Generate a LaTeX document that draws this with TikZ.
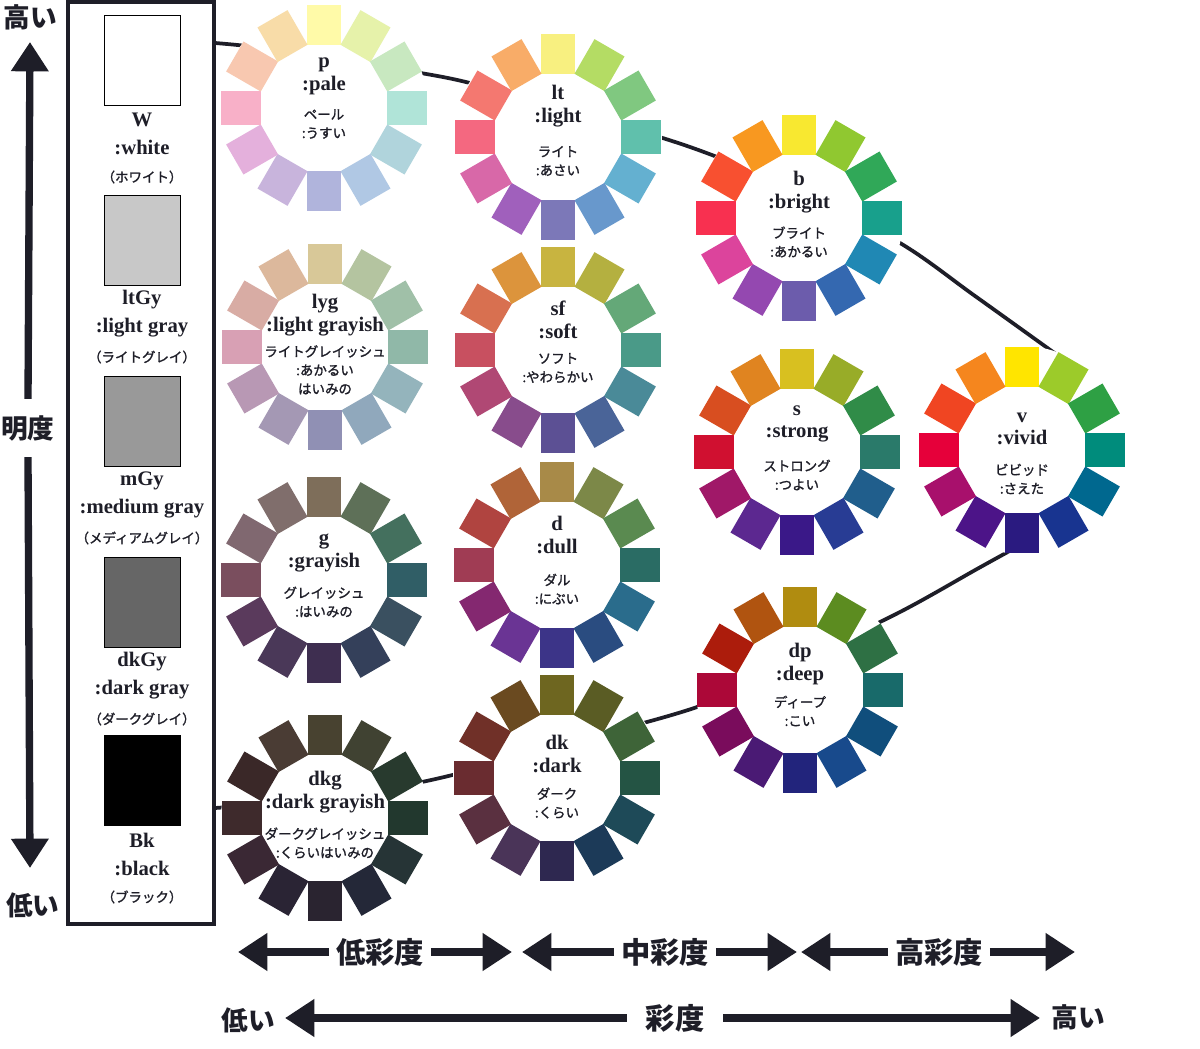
\documentclass[tikz,border=0pt]{standalone}
\usepackage{fontspec}
\setmainfont{Liberation Serif}
\newfontfamily\jpfont{Noto Sans CJK JP}
\newfontfamily\jpmid{Noto Sans CJK JP}[FakeBold=1.4]
\usepackage{xcolor}
\usepackage{tikz}
\usetikzlibrary{arrows.meta,calc}

\definecolor{ink}{HTML}{1E1E28}
\definecolor{ltGy}{HTML}{C8C8C8}
\definecolor{mGy}{HTML}{999999}
\definecolor{dkGy}{HTML}{666666}

\tikzset{
  chip/.style={minimum width=26pt,minimum height=30pt,inner sep=0pt},
  graychip/.style={draw=black,line width=0.6pt,minimum width=57pt,minimum height=67.5pt,inner sep=0pt},
  tonename/.style={font=\fontsize{15.5}{17}\selectfont\bfseries,align=center,inner sep=0pt,text=ink},
  grayname/.style={font=\fontsize{15.5}{21}\selectfont\bfseries,align=center,inner sep=0pt,text=ink},
  tonejp/.style={font=\jpmid\fontsize{10.1}{14}\selectfont,align=center,inner sep=0pt,text=ink},
  axislabel/.style={font=\jpfont\bfseries\fontsize{20}{24}\selectfont,text=ink,inner sep=0pt},
  scalelabel/.style={font=\jpfont\bfseries\fontsize{22}{24}\selectfont,text=ink,inner ysep=0pt,inner xsep=5pt},
  fatarrow/.style={draw=ink,line width=5.5pt,-{Triangle[length=22pt,width=27pt]}},
  track/.style={draw=ink,line width=2.8pt}
}

% #1 name, #2 centre, #3 twelve colours from yellow clockwise, #4 label, #5 kana, #6/#7 y offsets
\newcommand{\tonewheel}[7]{
  \coordinate (#1) at #2;
  \fill[white] (#1) circle[radius=104];
  \foreach \hex [count=\k from 0] in {#3}{
    \definecolor{chipfill}{HTML}{\hex}
    \node[chip,fill=chipfill,rotate=-30*\k] (#1-\k) at ($(#1)+({30*\k-90}:83)$) {};
  }
  \node[tonename] (#1-name) at ($(#1)+(0,#6)$) {#4};
  \node[tonejp] (#1-kana) at ($(#1)+(0,#7)$) {#5};
}

\begin{document}
\begin{tikzpicture}[x=0.75pt,y=-0.75pt]
\useasboundingbox[fill=white] (0,0) rectangle (1200,1049);

% tone line (runs behind the wheels)
\coordinate (trackTop) at (215,43);
\coordinate (trackBot) at (215,808);
\coordinate (vIn) at (1060,357);
\coordinate (vOut) at (1015,548);
\draw[track] plot[smooth,tension=0.55] coordinates {(trackTop) (255,47) (330,58) (415,72) (470,83) (560,108) (690,147) (800,192) (900,243) (975,296) (vIn)};
\draw[track] plot[smooth,tension=0.55] coordinates {(vOut) (977,569) (900,612) (800,660) (700,706) (560,745) (440,778) (330,798) (trackBot)};

\tonewheel{p}{(324,108)}{FFFAA8,E6F2AA,C8E8C0,B0E4D8,B0D4DC,B0C8E4,B0B4DC,C8B4DC,E4B0DC,F8B0C8,F8C8B0,F8DCA8}{p\\:pale}{ペール\\:うすい}{-32}{16}
\tonewheel{lt}{(558,137)}{F8F080,B4DC64,80C880,60C0AC,64B0D0,6898CC,7C78B8,A060BC,D868A8,F46880,F47870,F8AC68}{lt\\:light}{ライト\\:あさい}{-31}{24}
\tonewheel{b}{(799,218)}{F8E830,90C830,30A858,18A08C,2088B4,3468B0,6C5CAC,9448B0,DC449C,F83050,F85030,F89820}{b\\:bright}{ブライト\\:あかるい}{-26}{24}
\tonewheel{lyg}{(325,347)}{D8C898,B4C4A0,A0C0A8,90B8A8,94B4BC,90A8BC,9090B4,A498B4,B898B4,D8A0B4,D8ACA4,DCB89C}{lyg\\:light grayish}{ライトグレイッシュ\\:あかるい\\はいみの}{-32}{23}
\tonewheel{sf}{(558,350)}{C8B440,B4B040,64A878,4A9A88,4A8A98,4A6498,5C5094,884C8C,B04874,C85060,D87050,DC943C}{sf\\:soft}{ソフト\\:やわらかい}{-30}{18}
\tonewheel{g}{(324,580)}{7E6E5A,5E7058,44705E,305E66,3A5060,34405A,3E2E50,4A3858,5A3A5C,7A4E5E,806870,806E6C}{g\\:grayish}{グレイッシュ\\:はいみの}{-27}{22}
\tonewheel{d}{(557,565)}{A88A48,7C8848,5A8A50,2A6C64,2A6C8C,2A4C80,3C3488,6A3494,842870,A03C54,B04440,B06438}{d\\:dull}{ダル\\:にぶい}{-30}{24}
\tonewheel{s}{(797,452)}{D8C020,98AC28,308C48,2A7A6A,205E8C,283C94,3A1888,5C2890,A01868,D01030,D84E20,E08420}{s\\:strong}{ストロング\\:つよい}{-28}{23}
\tonewheel{v}{(1022,450)}{FFE500,9CCB2A,2EA044,008C7C,00688F,183490,2A1A80,4C1488,A8106C,E6003A,F04522,F5861E}{v\\:vivid}{ビビッド\\:さえた}{-21}{29}
\tonewheel{dp}{(800,690)}{B08C10,5C8C20,2E7044,186A6A,104E7C,184A8C,22247C,4A1A74,7A0C5C,AC0838,AC1C0C,B05410}{dp\\:deep}{ディープ\\:こい}{-26}{21}
\tonewheel{dk}{(557,778)}{6E6620,5A5C24,3E6438,245444,1E4A58,1C3A58,2E2850,4A3458,5A3040,6A2C30,703028,6A4A20}{dk\\:dark}{ダーク\\:くらい}{-24}{25}
\tonewheel{dkg}{(325,818)}{484230,404232,283A2E,22382E,263436,242838,2A2430,2A2434,3A2834,3E2A2C,3A2828,4A3C34}{dkg\\:dark grayish}{ダークグレイッシュ\\:くらいはいみの}{-26}{25}

% achromatic scale
\draw[ink,line width=2.3pt] (68,2) rectangle (214,924);
\foreach \y/\fillc/\code/\name/\kana in {60/white/W/white/ホワイト, 240/ltGy/ltGy/light gray/ライトグレイ, 421/mGy/mGy/medium gray/メディアムグレイ, 602/dkGy/dkGy/dark gray/ダークグレイ, 780/black/Bk/black/ブラック}{
  \node[graychip,fill=\fillc] (\code) at (142,\y) {};
  \node[grayname] (\code-name) at (142,\y+74) {\code\\:\name};
  \node[tonejp] (\code-kana) at (142,\y+117) {（\kana）};
}

% lightness axis
\node[axislabel] (lightHi) at (30,17) {高い};
\node[axislabel,inner ysep=12pt] (lightness) at (28,428) {明度};
\node[axislabel] (lightLo) at (33,905) {低い};
\coordinate (lightTop) at (30,42);
\coordinate (lightBot) at (30,868);
\draw[fatarrow] (lightness.north) -- (lightTop);
\draw[fatarrow] (lightness.south) -- (lightBot);

% chroma ranges
\node[scalelabel] (lowC) at (380,952) {低彩度};
\node[scalelabel] (midC) at (665,952) {中彩度};
\node[scalelabel] (highC) at (939,952) {高彩度};
\coordinate (lowL) at (238,952);
\coordinate (lowR) at (512,952);
\coordinate (midL) at (522,952);
\coordinate (midR) at (797,952);
\coordinate (highL) at (801,952);
\coordinate (highR) at (1075,952);
\draw[fatarrow] (lowC.west) -- (lowL);
\draw[fatarrow] (lowC.east) -- (lowR);
\draw[fatarrow] (midC.west) -- (midL);
\draw[fatarrow] (midC.east) -- (midR);
\draw[fatarrow] (highC.west) -- (highL);
\draw[fatarrow] (highC.east) -- (highR);

% chroma axis
\node[axislabel] (satLo) at (248,1020) {低い};
\node[scalelabel,inner xsep=14pt] (chroma) at (675,1018) {彩度};
\node[axislabel] (satHi) at (1078,1017) {高い};
\coordinate (satL) at (285,1018);
\coordinate (satR) at (1040,1018);
\draw[fatarrow] (chroma.west) -- (satL);
\draw[fatarrow] (chroma.east) -- (satR);
\end{tikzpicture}
\end{document}
